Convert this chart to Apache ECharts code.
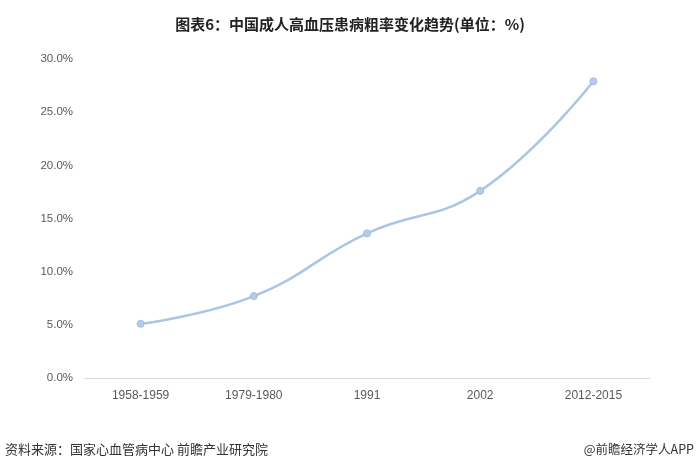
<!DOCTYPE html>
<html>
<head>
<meta charset="utf-8">
<script src="https://cdn.jsdelivr.net/npm/echarts@6/dist/echarts.min.js"></script>
<style>
html,body{margin:0;padding:0;background:#fff;}
#main{width:700px;height:471px;}
</style>
</head>
<body>
<div id="main"></div>
<script>
const categories = ['1958-1959', '1979-1980', '1991', '2002', '2012-2015'];
const prevalence = [5.1, 7.7, 13.6, 17.6, 27.9];
const yTicks = { min: 0, max: 30, interval: 5 };

const chart = echarts.init(document.getElementById('main'), null, { renderer: 'canvas' });
chart.setOption({
  backgroundColor: '#ffffff',
  animation: false,
  title: {
    text: '图表6：中国成人高血压患病粗率变化趋势(单位：%)',
    left: 'center',
    top: 12,
    textStyle: { fontFamily: 'Noto Sans CJK SC', fontSize: 15, fontWeight: 'bold', color: '#222' }
  },
  graphic: [
    { type: 'text', left: 5, top: 443,
      style: { text: '资料来源：国家心血管病中心 前瞻产业研究院', font: '13px "Noto Sans CJK SC"', fill: '#333' } },
    { type: 'text', right: 6, top: 443,
      style: { text: '@前瞻经济学人APP', font: '12.5px "Noto Sans CJK SC"', fill: '#333' } }
  ],
  grid: { left: 84, right: 50, top: 59, bottom: 93, containLabel: false },
  xAxis: {
    type: 'category',
    data: categories,
    boundaryGap: true,
    axisLine: { lineStyle: { color: '#d9d9d9', width: 1 } },
    axisTick: { show: false },
    axisLabel: { color: '#595959', fontSize: 12, fontFamily: 'Liberation Sans', margin: 12 }
  },
  yAxis: {
    type: 'value',
    min: yTicks.min, max: yTicks.max, interval: yTicks.interval,
    axisLine: { show: false },
    axisTick: { show: false },
    splitLine: { show: false },
    axisLabel: { color: '#595959', fontSize: 11.5, fontFamily: 'Liberation Sans', margin: 11,
      formatter: v => v.toFixed(1) + '%' }
  },
  series: [{
    type: 'line',
    data: prevalence,
    smooth: 0.45,
    symbol: 'circle',
    symbolSize: 7,
    lineStyle: { color: '#aac5e6', width: 2.5 },
    itemStyle: { color: '#b4cce9', borderColor: '#9fbde2', borderWidth: 1 }
  }]
});
</script>
</body>
</html>
